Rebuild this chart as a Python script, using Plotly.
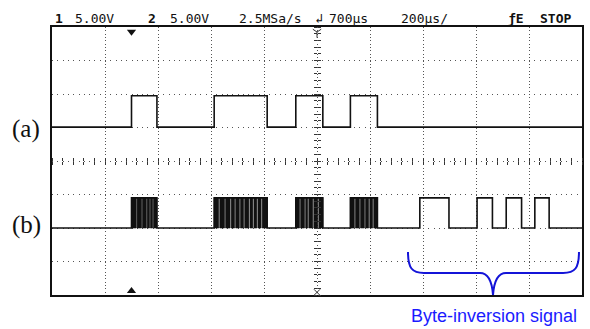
import plotly.graph_objects as go

# ---- Data (time in microseconds; 200 us/div, delay 700 us -> screen spans -300 .. 1700 us) ----
T_RANGE = [-300, 1700]
V_RANGE = [-4, 4]            # vertical divisions

# Channel (a): enable / window signal
a_rise = [0, 312, 620, 826]
a_fall = [96, 512, 722, 928]
a_low, a_high = 1.01, 1.95

# Channel (b): data bursts + byte-inversion pulses
b_low, b_high = -2.0, -1.1
burst_rise = [0, 312, 620, 826]
burst_fall = [96, 512, 722, 928]
# dense toggling inside each burst: dark segments (start, end)
burst1 = [(0, 18), (21, 38), (41, 56), (59, 68), (71, 80), (83, 96)]
burst2 = [(312, 329), (333, 351), (355, 372), (376, 389), (393, 407), (411, 423),
          (427, 443), (447, 458), (462, 473), (477, 489), (493, 512)]
burst3 = [(620, 634), (638, 653), (657, 665), (669, 684), (688, 703), (707, 722)]
burst4 = [(826, 841), (845, 860), (864, 879), (883, 895), (899, 910), (914, 928)]
inv_rise = [1088, 1304, 1414, 1522]
inv_fall = [1198, 1362, 1472, 1576]

header = [("1", 53, True), ("5.00V", 73, False), ("2", 146, True), ("5.00V", 168, False),
          ("2.5MSa/s", 237, False), ("↲", 313, False), ("700µs", 327, False),
          ("200µs/", 399, False), ("ƒE", 506, True), ("STOP", 538, True)]

# ---- geometry helpers (pixel -> paper) ----
L, R, T, B = 52, 582, 27, 295
W, H = R - L, B - T
def px(x):
    return (x - L) / W
def py(y):
    return (B - y) / H

def step_trace(rises, falls, low, high):
    xs, ys = [T_RANGE[0]], [low]
    for s, e in zip(rises, falls):
        xs += [s, s, e, e]
        ys += [low, high, high, low]
    xs.append(T_RANGE[1]); ys.append(low)
    return xs, ys

fig = go.Figure()

ax, ay = step_trace(a_rise, a_fall, a_low, a_high)
fig.add_trace(go.Scatter(x=ax, y=ay, mode="lines", line=dict(color="#111", width=1.6),
                         hoverinfo="skip"))

b_r = sorted(burst_rise + inv_rise)
b_f = sorted(burst_fall + inv_fall)
bx, by = step_trace(b_r, b_f, b_low, b_high)
fig.add_trace(go.Scatter(x=bx, y=by, mode="lines", line=dict(color="#111", width=1.6),
                         hoverinfo="skip"))

fx, fy = [], []
for seg in burst1 + burst2 + burst3 + burst4:
    a, b = seg
    fx += [a, a, b, b, a, None]
    fy += [b_low, b_high, b_high, b_low, b_low, None]
fig.add_trace(go.Scatter(x=fx, y=fy, mode="lines", fill="toself", fillcolor="#111",
                         line=dict(color="#111", width=0.6), hoverinfo="skip"))

# reference markers
fig.add_trace(go.Scatter(x=[1722, 1722], y=[a_low, b_low], mode="markers",
                         marker=dict(symbol="triangle-left", size=7, color="#111"),
                         cliponaxis=False, hoverinfo="skip"))
fig.add_trace(go.Scatter(x=[0], y=[3.86], mode="markers",
                         marker=dict(symbol="triangle-down", size=8, color="#111"),
                         cliponaxis=False, hoverinfo="skip"))
fig.add_trace(go.Scatter(x=[0], y=[-3.88], mode="markers",
                         marker=dict(symbol="triangle-up", size=8, color="#111"),
                         cliponaxis=False, hoverinfo="skip"))
fig.add_trace(go.Scatter(x=[700], y=[3.85], mode="markers",
                         marker=dict(symbol="y-down", size=7, line=dict(color="#333", width=1)),
                         cliponaxis=False, hoverinfo="skip"))
fig.add_trace(go.Scatter(x=[700], y=[-3.92], mode="markers",
                         marker=dict(symbol="x-thin", size=6, line=dict(color="#333", width=1)),
                         cliponaxis=False, hoverinfo="skip"))

# dummy traces so crosshair tick axes exist
for xa, ya in [("x2", "y"), ("x3", "y"), ("x", "y2"), ("x", "y3")]:
    fig.add_trace(go.Scatter(x=[None], y=[None], xaxis=xa, yaxis=ya, hoverinfo="skip"))

grid_col = "#555"
tick_common = dict(showticklabels=False, showgrid=False, zeroline=False, showline=False,
                   ticks="outside", ticklen=3, tickcolor="#333", automargin=False)
fig.update_layout(
    width=590, height=329,
    margin=dict(l=L, r=590 - R, t=T, b=329 - B, pad=0, autoexpand=False),
    paper_bgcolor="white", plot_bgcolor="white", showlegend=False,
    xaxis=dict(range=T_RANGE, tickmode="linear", tick0=T_RANGE[0], dtick=200,
               showgrid=True, gridcolor=grid_col, gridwidth=1, griddash="1px,2.35px",
               showticklabels=False, ticks="", zeroline=False, automargin=False,
               showline=True, linecolor="#111", linewidth=1.5, mirror=True),
    yaxis=dict(range=V_RANGE, tickmode="linear", tick0=-4, dtick=1,
               showgrid=True, gridcolor=grid_col, gridwidth=1, griddash="1px,4.3px",
               showticklabels=False, ticks="", zeroline=False, automargin=False,
               showline=True, linecolor="#111", linewidth=1.5, mirror=True),
    xaxis2=dict(overlaying="x", anchor="free", position=0.5, side="bottom", range=T_RANGE,
                tickmode="linear", tick0=T_RANGE[0], dtick=40, **tick_common),
    xaxis3=dict(overlaying="x", anchor="free", position=0.5, side="top", range=T_RANGE,
                tickmode="linear", tick0=T_RANGE[0], dtick=40, **tick_common),
    yaxis2=dict(overlaying="y", anchor="free", position=0.5, side="left", range=V_RANGE,
                tickmode="linear", tick0=-4, dtick=0.2, **tick_common),
    yaxis3=dict(overlaying="y", anchor="free", position=0.5, side="right", range=V_RANGE,
                tickmode="linear", tick0=-4, dtick=0.2, **tick_common),
)

ann = []
for text, x0, bold in header:
    ann.append(dict(text=f"<b>{text}</b>" if bold else text, xref="paper", yref="paper",
                    x=px(x0), y=1, xanchor="left", yanchor="middle", yshift=9,
                    showarrow=False, font=dict(family="DejaVu Sans Mono", size=13, color="#111")))
ann.append(dict(text="(a)", xref="paper", yref="y", x=px(26), y=0.96, xanchor="center",
                yanchor="middle", showarrow=False,
                font=dict(family="Liberation Serif", size=25, color="#111")))
ann.append(dict(text="(b)", xref="paper", yref="y", x=px(26), y=-1.91, xanchor="center",
                yanchor="middle", showarrow=False,
                font=dict(family="Liberation Serif", size=25, color="#111")))
ann.append(dict(text="Byte-inversion signal", xref="paper", yref="paper", x=px(494),
                y=py(316), xanchor="center", yanchor="middle", showarrow=False,
                font=dict(family="Liberation Sans", size=18, color="#1a1aff")))
fig.update_layout(annotations=ann)

def P(x, y):
    return f"{px(x):.4f},{py(y):.4f}"
brace = (f"M{P(408,252)} C{P(408,268)} {P(412,273)} {P(424,273)} L{P(480,273)} "
         f"C{P(488,273)} {P(492,281)} {P(493,295)} C{P(494,281)} {P(498,273)} {P(506,273)} "
         f"L{P(563,273)} C{P(575,273)} {P(579,268)} {P(579,252)}")
fig.add_shape(type="path", path=brace, xref="paper", yref="paper",
              line=dict(color="#1414d8", width=2))

fig.write_html("out.html", config={"displayModeBar": False},
               post_script="document.body.style.margin='0';document.body.style.padding='0';"
                           "document.body.style.overflow='hidden';")
